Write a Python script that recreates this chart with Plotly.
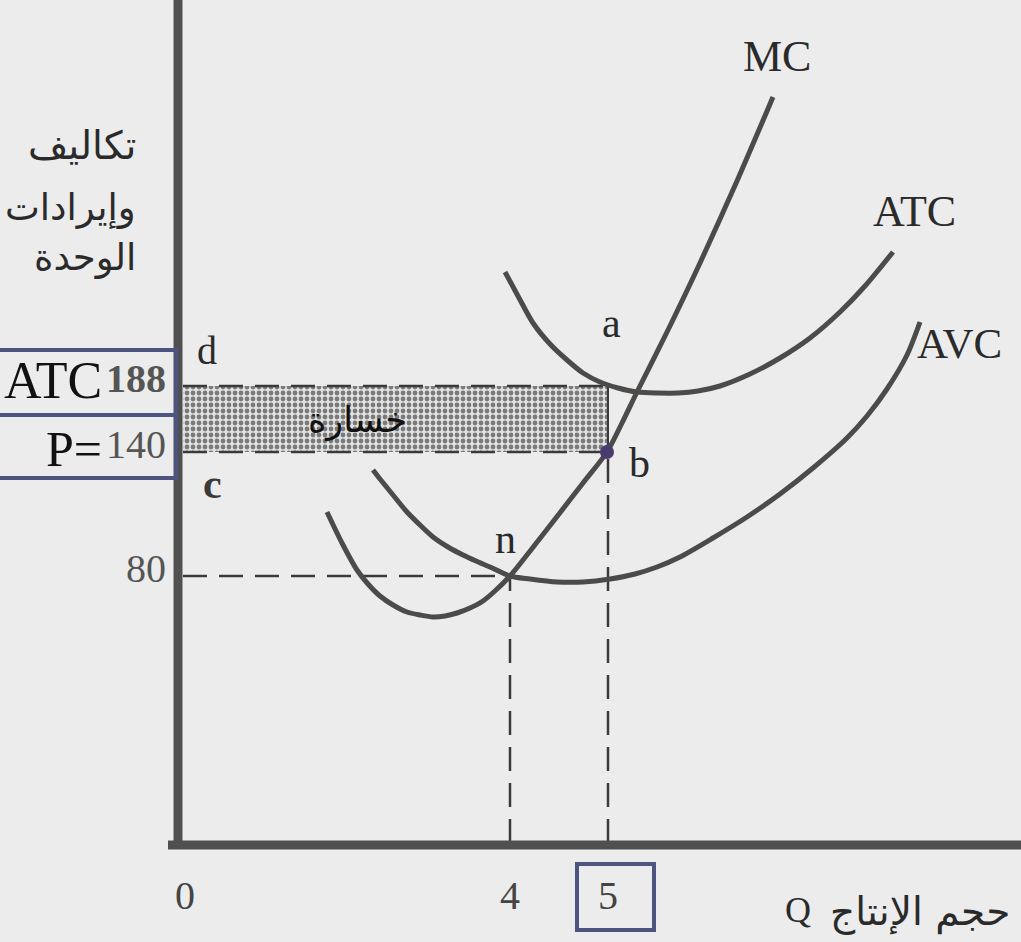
import plotly.graph_objects as go

# ---------------- data (schematic drawing units: Q to the right of the cost axis, cost above the Q axis)
MC_Q = [149, 164, 179, 190, 202, 215, 229, 242, 255, 267, 279, 292, 305, 318, 332,
        356, 381, 405, 429, 444, 459, 490, 522, 559, 595]
MC_C = [331, 300, 273, 259, 247, 238, 231, 228, 226, 227, 230, 235, 242, 253, 267,
        297, 329, 360, 391, 420, 451, 513, 580, 662, 746]

ATC_Q = [327, 340, 355, 372, 389, 405, 422, 440, 459, 480, 500, 520, 542, 572, 602, 632, 662, 687, 715]
ATC_C = [571, 547, 520, 499, 483, 470, 461, 455, 451, 450, 450, 452, 457, 469, 485, 505, 531, 557, 591]

AVC_Q = [195, 202, 215, 229, 242, 255, 270, 285, 298, 312, 332, 352, 379, 405, 432, 457,
         479, 502, 535, 569, 602, 635, 669, 689, 709, 729, 742]
AVC_C = [373, 364, 348, 331, 318, 306, 296, 288, 282, 276, 267, 264, 261, 261, 264, 269,
         276, 286, 305, 326, 349, 375, 405, 427, 454, 488, 521]

# positions of the marked quantities / prices on the schematic axes
Q4_POS, Q5_POS = 332, 430
P80_POS, P140_POS, P188_POS = 267, 391, 457
AXIS_START = 5

X_TICK_VALS = [7, Q4_POS, Q5_POS]
X_TICK_TEXT = ["0", "4", "5"]
Y_TICK_VALS = [P80_POS, P140_POS, P188_POS]
Y_TICK_TEXT = ["80", "140", "<b>188</b>"]

CURVE_NAMES = ["MC", "ATC", "AVC"]
Y_TITLE_LINES = ["تكاليف", "وإيرادات", "الوحدة"]
X_TITLE_AR = "حجم الإنتاج"
X_TITLE_Q = "Q"
LOSS_LABEL = "خسارة"

# ---------------- layout helpers (figure pixels -> paper fractions)
W, H = 1021, 942
ML, MB = 178, 99
PW, PH = W - ML, H - MB


def PX(px):
    return (px - ML) / PW


def PY(py):
    return (PH - py) / PH


SERIF = "Liberation Serif"
ARABIC = "DejaVu Sans"
CURVE_COLOR = "#4d4b4a"
BG = "#ececec"
BOX = "#4b5580"

fig = go.Figure()

# loss rectangle (dotted fill)
fig.add_trace(go.Scatter(
    x=[AXIS_START, Q5_POS, Q5_POS, AXIS_START, AXIS_START],
    y=[P140_POS, P140_POS, P188_POS, P188_POS, P140_POS],
    mode="lines", fill="toself", fillcolor="#dcdcdc",
    fillpattern=dict(shape=".", size=6, solidity=0.5, fgcolor="#111111", bgcolor="#e2e2e2"),
    line=dict(width=0), hoverinfo="skip"))

dash = "24px,12px"
# dashed guide lines
for xs, ys in [
    ([AXIS_START, Q4_POS], [P80_POS, P80_POS]),
    ([Q4_POS, Q4_POS], [0, P80_POS]),
    ([AXIS_START, Q5_POS], [P140_POS, P140_POS]),
    ([Q5_POS, Q5_POS], [0, P140_POS]),
    ([AXIS_START, Q5_POS], [P188_POS, P188_POS]),
]:
    fig.add_trace(go.Scatter(x=xs, y=ys, mode="lines",
                             line=dict(color="#3a3a3a", width=2.5, dash=dash),
                             hoverinfo="skip"))
fig.add_trace(go.Scatter(x=[Q5_POS, Q5_POS], y=[P140_POS, P188_POS], mode="lines",
                         line=dict(color="#3a3a3a", width=2), hoverinfo="skip"))

# cost curves
for qs, cs in [(MC_Q, MC_C), (ATC_Q, ATC_C), (AVC_Q, AVC_C)]:
    fig.add_trace(go.Scatter(x=qs, y=cs, mode="lines",
                             line=dict(color=CURVE_COLOR, width=5, shape="spline", smoothing=0.8),
                             hoverinfo="skip"))

# point b
fig.add_trace(go.Scatter(x=[Q5_POS - 1], y=[P140_POS], mode="markers",
                         marker=dict(size=14, color="#4a3b6e"), hoverinfo="skip"))

# axis lines
shapes = [
    dict(type="line", xref="paper", yref="paper", x0=0, x1=0, y0=PY(846), y1=1.0,
         line=dict(color="#505050", width=9)),
    dict(type="line", xref="paper", yref="paper", x0=PX(168), x1=1.0, y0=PY(845), y1=PY(845),
         line=dict(color="#505050", width=9)),
    # highlight boxes
    dict(type="rect", xref="paper", yref="paper", x0=PX(-5), x1=PX(176), y0=PY(350), y1=PY(415),
         line=dict(color=BOX, width=4)),
    dict(type="rect", xref="paper", yref="paper", x0=PX(-5), x1=PX(176), y0=PY(415), y1=PY(478),
         line=dict(color=BOX, width=4)),
    dict(type="rect", xref="paper", yref="paper", x0=PX(577), x1=PX(654), y0=PY(864), y1=PY(930),
         line=dict(color=BOX, width=4)),
]

ann = []


def add_text(text, px, py, size, family=SERIF, color="#2a2a2a", xanchor="center"):
    ann.append(dict(text=text, x=PX(px), y=PY(py), xref="paper", yref="paper", showarrow=False,
                    xanchor=xanchor, yanchor="middle",
                    font=dict(family=family, size=size, color=color)))


add_text(CURVE_NAMES[0], 777, 56, 44)
add_text(CURVE_NAMES[1], 914, 212, 44)
add_text(CURVE_NAMES[2], 959, 343, 43)
add_text("a", 611, 323, 42)
add_text("b", 639, 463, 42)
add_text("n", 505, 539, 42)
add_text("d", 207, 350, 40)
add_text("<b>c</b>", 212, 484, 42, color="#3a3a3a")
add_text(LOSS_LABEL, 357, 421, 35, family=ARABIC, color="#111")
for line, cy, sz in zip(Y_TITLE_LINES, [145, 207, 257], [39, 37, 37]):
    add_text(line, 138, cy, sz, family=ARABIC, xanchor="right", color="#2a2a2a")
add_text(X_TITLE_AR, 920, 912, 39, family=ARABIC, color="#2a2a2a")
add_text(X_TITLE_Q, 798, 910, 36, color="#2a2a2a")
add_text("ATC", 53, 380, 52, color="#111")
add_text("P=", 74, 449, 50, color="#111")

fig.update_layout(
    width=W, height=H,
    margin=dict(l=ML, r=0, t=0, b=MB, pad=0),
    paper_bgcolor=BG, plot_bgcolor=BG,
    showlegend=False,
    shapes=shapes,
    annotations=ann,
    xaxis=dict(range=[0, PW], showgrid=False, zeroline=False, showline=False,
               tickvals=X_TICK_VALS, ticktext=X_TICK_TEXT, ticks="",
               tickfont=dict(family=SERIF, size=40, color="#444"),
               ticklabelstandoff=25, fixedrange=True),
    yaxis=dict(range=[0, PH], showgrid=False, zeroline=False, showline=False,
               tickvals=Y_TICK_VALS, ticktext=Y_TICK_TEXT, ticks="",
               tickfont=dict(family=SERIF, size=40, color="#555"),
               ticklabelstandoff=11, ticklabelshift=-8, fixedrange=True),
)

fig.write_html("out.html", config={"displayModeBar": False},
               post_script="document.body.style.margin='0';")
